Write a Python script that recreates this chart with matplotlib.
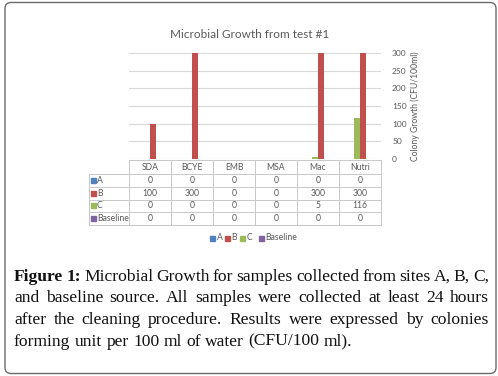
import matplotlib
matplotlib.use("Agg")
import matplotlib.pyplot as plt
from matplotlib.patches import FancyBboxPatch, Rectangle
import numpy as np

categories = ["SDA", "BCYE", "EMB", "MSA", "Mac", "Nutri"]
series_names = ["A", "B", "C", "Baseline"]
vals_a = [0, 0, 0, 0, 0, 0]
vals_b = [100, 300, 0, 0, 300, 300]
vals_c = [0, 0, 0, 0, 5, 116]
vals_base = [0, 0, 0, 0, 0, 0]
y_ticks = [0, 50, 100, 150, 200, 250, 300]
colors = ["#4F81BD", "#C0504D", "#9BBB59", "#8064A2"]

title = "Microbial Growth from test #1"
y_label = "Colony Growth (CFU/100ml)"
caption_lines = [
    "Figure 1: Microbial Growth for samples collected from sites A, B, C,",
    "and baseline source. All samples were collected at least 24 hours",
    "after the cleaning procedure. Results were expressed by colonies",
    "forming unit per 100 ml of water (CFU/100 ml).",
]

W, H = 498, 376
fig = plt.figure(figsize=(W / 100, H / 100), dpi=100)
fig.patch.set_facecolor("white")

# overlay in pixel coords for frame, table, legend, caption
ov = fig.add_axes([0, 0, 1, 1])
ov.set_xlim(0, W)
ov.set_ylim(H, 0)
ov.axis("off")

ov.add_patch(FancyBboxPatch((5, 2.5), 491, 371, boxstyle="round,pad=0,rounding_size=6",
                            fc="none", ec="#6b6b6b", lw=1.0))

# bar chart
x0, x1, ytop, ybot = 129, 381, 53, 159
ax = fig.add_axes([x0 / W, 1 - ybot / H, (x1 - x0) / W, (ybot - ytop) / H])
all_vals = [vals_a, vals_b, vals_c, vals_base]
x = np.arange(len(categories))
bw = 0.15
for i, (vals, c) in enumerate(zip(all_vals, colors)):
    ax.bar(x + (1.5 - i) * bw, vals, bw, color=c, zorder=3)
ax.set_xlim(-0.5, len(categories) - 0.5)
ax.set_ylim(0, 300)
ax.set_yticks(y_ticks)
ax.yaxis.tick_right()
ax.tick_params(axis="y", length=0, labelsize=6, labelcolor="#595959", pad=8)
ax.set_xticks([])
ax.grid(axis="y", color="#d9d9d9", lw=0.8, zorder=0)
for s in ax.spines.values():
    s.set_visible(False)
for lab in ax.get_yticklabels():
    lab.set_family("Lato")
ax.yaxis.set_label_position("right")
ax.set_ylabel(y_label, fontsize=6.2, color="#595959", family="Lato", labelpad=3)

ov.text(250, 34, title, ha="center", va="center", fontsize=8.5, color="#595959", family="Lato")

# data table
col_w = (x1 - x0) / len(categories)
rows = [160, 174, 187, 199.5, 212, 225]
lab_x = 89
gc = "#c8c8c8"
tk = dict(fontsize=6.2, color="#595959", family="Lato", va="center")
ov.plot([x0, x1], [rows[0], rows[0]], color=gc, lw=0.7)
for r in rows[1:]:
    ov.plot([lab_x, x1], [r, r], color=gc, lw=0.7)
for k in range(len(categories) + 1):
    ov.plot([x0 + k * col_w] * 2, [rows[0], rows[-1]], color=gc, lw=0.7)
ov.plot([lab_x, lab_x], [rows[1], rows[-1]], color=gc, lw=0.7)
for k, cat in enumerate(categories):
    ov.text(x0 + (k + 0.5) * col_w, (rows[0] + rows[1]) / 2, cat, ha="center", **tk)
for j, (name, vals, c) in enumerate(zip(series_names, all_vals, colors)):
    yc = (rows[j + 1] + rows[j + 2]) / 2
    ov.add_patch(Rectangle((lab_x + 2, yc - 2.5), 5, 5, color=c))
    ov.text(lab_x + 8, yc, name, ha="left", **tk)
    for k, v in enumerate(vals):
        ov.text(x0 + (k + 0.5) * col_w, yc, str(v), ha="center", **tk)

# legend
leg_x = [210, 225, 240, 259]
for name, c, lx in zip(series_names, colors, leg_x):
    ov.add_patch(Rectangle((lx, 235.5), 5, 5, color=c))
    ov.text(lx + 6.5, 238, name, ha="left", **tk)

# caption, justified
fig.canvas.draw()
rend = fig.canvas.get_renderer()
cap_left, cap_right = 14, 489
line_y = [277, 298.5, 320, 341.5]
cfs = 12.6
for li, (line, ly) in enumerate(zip(caption_lines, line_y)):
    words = line.split(" ")
    arts = []
    for wi, wd in enumerate(words):
        bold = li == 0 and wi < 2
        t = ov.text(0, ly, wd, ha="left", va="center", fontsize=cfs, family="Liberation Serif",
                    weight="bold" if bold else "normal", color="#111111")
        arts.append(t)
    widths = [a.get_window_extent(rend).width for a in arts]
    if li < len(caption_lines) - 1:
        gap = (cap_right - cap_left - sum(widths)) / (len(words) - 1)
    else:
        gap = cfs * 100 / 72 * 0.25
    xp = cap_left
    for a, wdt in zip(arts, widths):
        a.set_x(xp)
        xp += wdt + gap

fig.savefig("out.png", dpi=100, facecolor="white")
